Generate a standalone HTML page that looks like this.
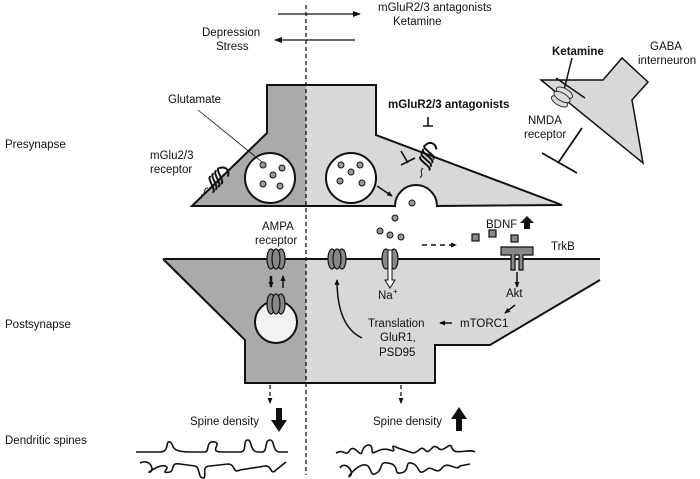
<!DOCTYPE html>
<html><head><meta charset="utf-8"><style>
body{margin:0;background:#fff}
svg{display:block}
text{font-family:"Liberation Sans",Arial,sans-serif;font-size:11.5px;fill:#111}
.b{font-weight:bold}
</style></head><body>
<svg width="700" height="479" viewBox="0 0 700 479" xmlns="http://www.w3.org/2000/svg">
<defs>
<marker id="ah" markerWidth="8" markerHeight="8" refX="7" refY="4" orient="auto" markerUnits="userSpaceOnUse"><path d="M0,1 L8,4 L0,7 Z" fill="#111"/></marker>
<marker id="ahs" markerWidth="6" markerHeight="6" refX="5" refY="3" orient="auto" markerUnits="userSpaceOnUse"><path d="M0,0.5 L6,3 L0,5.5 Z" fill="#111"/></marker>
<clipPath id="cl"><rect x="0" y="0" width="306" height="479"/></clipPath>
<g id="amp"><ellipse cx="-5" cy="0" rx="4" ry="10" fill="#888" stroke="#111" stroke-width="1.2"/><ellipse cx="5" cy="0" rx="4" ry="10" fill="#888" stroke="#111" stroke-width="1.2"/><ellipse cx="0" cy="0" rx="4" ry="10" fill="#888" stroke="#111" stroke-width="1.2"/></g>
<g id="rec"><path d="M-6,-8 C-10,-4 10,-2 6,2 M-6,-4 C-10,0 10,2 6,6 M-6,0 C-10,4 10,6 6,10 M-6,4 C-10,8 10,10 6,14 M-6,-8 C-3,-14 3,-14 6,-8" fill="none" stroke="#111" stroke-width="2"/><path d="M0,14 C-4,18 4,20 0,24" fill="none" stroke="#111" stroke-width="1"/></g>
</defs>

<line x1="278" y1="14" x2="360" y2="14" stroke="#111" stroke-width="1.3" marker-end="url(#ah)"/>
<line x1="355" y1="40" x2="275" y2="40" stroke="#111" stroke-width="1.3" marker-end="url(#ah)"/>
<text x="378" y="11">mGluR2/3 antagonists</text>
<text x="393" y="25">Ketamine</text>
<text x="202" y="36">Depression</text>
<text x="216" y="50">Stress</text>

<text x="5" y="148">Presynapse</text>
<text x="5" y="328">Postsynapse</text>
<text x="5" y="444">Dendritic spines</text>

<path d="M192,206 L267,133 L267,85 L376,85 L376,135 L562,205 L437,206 A21,21 0 0 0 395,206 Z" fill="#d8d8d8"/>
<path d="M192,206 L267,133 L267,85 L376,85 L376,135 L562,205 L437,206 A21,21 0 0 0 395,206 Z" fill="#aaa" clip-path="url(#cl)"/>
<path d="M192,206 L267,133 L267,85 L376,85 L376,135 L562,205 L437,206 A21,21 0 0 0 395,206 Z" fill="none" stroke="#111" stroke-width="2"/>
<circle cx="270" cy="178" r="25" fill="#fff" stroke="#111" stroke-width="2"/>
<circle cx="351" cy="178" r="25" fill="#fff" stroke="#111" stroke-width="2"/>
<g fill="#999" stroke="#111" stroke-width="1">
<circle cx="263" cy="165" r="3"/><circle cx="282" cy="168" r="3"/><circle cx="273" cy="175" r="3"/><circle cx="263" cy="184" r="3"/><circle cx="280" cy="186" r="3"/>
<circle cx="341" cy="165" r="3"/><circle cx="360" cy="165" r="3"/><circle cx="351" cy="172" r="3"/><circle cx="340" cy="181" r="3"/><circle cx="362" cy="183" r="3"/>
<circle cx="412" cy="203" r="3"/>
<circle cx="395" cy="218" r="3"/><circle cx="380" cy="231" r="3"/><circle cx="390" cy="235" r="3"/><circle cx="401" cy="237" r="3"/>
</g>
<text x="168" y="103">Glutamate</text>
<line x1="198" y1="110" x2="262" y2="162" stroke="#111" stroke-width="0.8"/>
<text x="150" y="159">mGlu2/3</text><text x="150" y="173">receptor</text>
<g transform="translate(218,178) rotate(45)"><use href="#rec"/></g>
<g transform="translate(428,155) rotate(20)"><use href="#rec"/></g>
<text x="388" y="108" class="b">mGluR2/3 antagonists</text>
<path d="M428,117 L428,126 M423,126 L433,126" stroke="#111" stroke-width="1.6"/>
<path d="M401,151 L408,163 M401,165 L415,158" stroke="#111" stroke-width="1.6"/>
<line x1="377" y1="186" x2="392" y2="196" stroke="#111" stroke-width="1.5" marker-end="url(#ahs)"/>

<path d="M541,80 L603,80 L622,58 L648,82 L632,100 L643,163 Z" fill="#d8d8d8" stroke="#111" stroke-width="1.5"/>
<text x="552" y="55" class="b">Ketamine</text>
<text x="650" y="50">GABA</text><text x="638" y="64">interneuron</text>
<path d="M572,58 L563,94 M556,78 L585,98" stroke="#111" stroke-width="1.5"/>
<g transform="translate(562,97) rotate(-60)"><ellipse cx="-5" cy="0" rx="4" ry="9" fill="#ddd" stroke="#333"/><ellipse cx="5" cy="0" rx="4" ry="9" fill="#ddd" stroke="#333"/><ellipse cx="0" cy="0" rx="4" ry="9" fill="#ddd" stroke="#333"/></g>
<text x="528" y="124">NMDA</text><text x="524" y="138">receptor</text>
<path d="M582,128 L558,163 M542,153 L577,173" stroke="#111" stroke-width="1.8"/>

<path d="M163,259 L600,259 L600,280 L490,345 L435,345 L435,383 L245,383 L245,340 Z" fill="#d8d8d8"/>
<path d="M163,259 L600,259 L600,280 L490,345 L435,345 L435,383 L245,383 L245,340 Z" fill="#aaa" clip-path="url(#cl)"/>
<path d="M163,259 L600,259 M600,280 L490,345 L435,345 L435,383 L245,383 L245,340 L163,259" fill="none" stroke="#111" stroke-width="2"/>
<line x1="306" y1="5" x2="306" y2="475" stroke="#111" stroke-width="1.3" stroke-dasharray="4,3"/>

<text x="262" y="230">AMPA</text><text x="255" y="244">receptor</text>
<use href="#amp" x="276" y="259"/>
<use href="#amp" x="337" y="259"/>
<g transform="translate(390,259)"><ellipse cx="-4" cy="0" rx="4" ry="10" fill="#888" stroke="#111" stroke-width="1.2"/><ellipse cx="4" cy="0" rx="4" ry="10" fill="#888" stroke="#111" stroke-width="1.2"/></g>
<path d="M388,250 L392,250 L392,280 L395,280 L390,288 L385,280 L388,280 Z" fill="#fff" stroke="#111" stroke-width="1"/>
<text x="378" y="299">Na</text><text x="393" y="294" style="font-size:8px">+</text>
<line x1="271" y1="276" x2="271" y2="287" stroke="#111" stroke-width="2.5" marker-end="url(#ahs)"/>
<line x1="283" y1="288" x2="283" y2="276" stroke="#111" stroke-width="1.5" marker-end="url(#ahs)"/>
<circle cx="276" cy="322" r="21" fill="#f2f2f2" stroke="#111" stroke-width="2"/>
<use href="#amp" x="276" y="304"/>
<path d="M362,338 C345,330 337,310 337,280" fill="none" stroke="#111" stroke-width="1.5" marker-end="url(#ahs)"/>
<text x="368" y="327">Translation</text><text x="380" y="341">GluR1,</text><text x="379" y="356">PSD95</text>
<line x1="452" y1="323" x2="440" y2="323" stroke="#111" stroke-width="1.5" marker-end="url(#ahs)"/>
<text x="460" y="327">mTORC1</text>
<line x1="515" y1="305" x2="505" y2="313" stroke="#111" stroke-width="1.5" marker-end="url(#ahs)"/>
<text x="506" y="297">Akt</text>
<line x1="517" y1="272" x2="517" y2="287" stroke="#111" stroke-width="1.5" marker-end="url(#ahs)"/>
<line x1="422" y1="245" x2="456" y2="245" stroke="#111" stroke-width="1.5" stroke-dasharray="5,4" marker-end="url(#ahs)"/>
<text x="486" y="228">BDNF</text>
<path d="M524,229 L524,223 L520,223 L527,216 L534,223 L530,223 L530,229 Z" fill="#111"/>
<g fill="#888" stroke="#111" stroke-width="1.2">
<rect x="472" y="234" width="7" height="7"/><rect x="489" y="230" width="7" height="7"/><rect x="511" y="235" width="7" height="7"/>
<path d="M501,247 L533,247 L533,255 L523,255 L523,270 L519,270 L519,255 L515,255 L515,270 L511,270 L511,255 L501,255 Z"/>
</g>
<text x="551" y="250">TrkB</text>

<line x1="270" y1="385" x2="270" y2="403" stroke="#111" stroke-width="1.3" stroke-dasharray="4,3" marker-end="url(#ahs)"/>
<line x1="401" y1="385" x2="401" y2="403" stroke="#111" stroke-width="1.3" stroke-dasharray="4,3" marker-end="url(#ahs)"/>
<text x="190" y="425">Spine density</text>
<path d="M276,408 L282,408 L282,420 L287,420 L279,432 L271,420 L276,420 Z" fill="#111"/>
<text x="373" y="425">Spine density</text>
<path d="M456,431 L462,431 L462,419 L467,419 L459,407 L451,419 L456,419 Z" fill="#111"/>

<g fill="none" stroke="#111" stroke-width="1.6">
<path d="M136,452 L160,452 C170,452 165,440 170,442 C175,444 168,452 190,452 L205,452 C210,452 205,440 215,442 C222,444 208,452 222,452 L240,452 C248,452 242,440 248,440 C252,440 250,452 258,452 L262,452 C268,452 264,440 270,440 C275,440 272,452 280,452 L288,452"/>
<path d="M140,463 C150,458 155,470 150,472 C145,474 160,464 165,466 C172,468 158,474 170,472 C175,470 170,462 180,464 L195,466 C200,467 198,478 203,478 C208,478 200,466 210,466 L228,464 C236,464 232,474 240,470 L265,466 C272,465 270,476 276,470 L286,462"/>
<path d="M336,453 C345,448 345,458 350,450 C355,444 360,458 362,452 C364,444 372,442 372,450 C372,458 378,446 390,450 C400,454 386,442 398,448 L410,452 C418,456 420,444 425,450 C430,456 432,442 438,448 C444,454 450,440 452,448 C454,456 470,448 475,452"/>
<path d="M340,468 C345,460 355,472 350,476 C345,480 360,460 368,466 C372,470 370,478 378,472 C384,466 378,460 392,464 C400,468 392,476 404,472 C410,468 404,460 414,464 C420,468 418,476 426,470 C432,464 436,476 442,468 C448,460 456,472 460,466 L470,464"/>
</g>
</svg>
</body></html>
